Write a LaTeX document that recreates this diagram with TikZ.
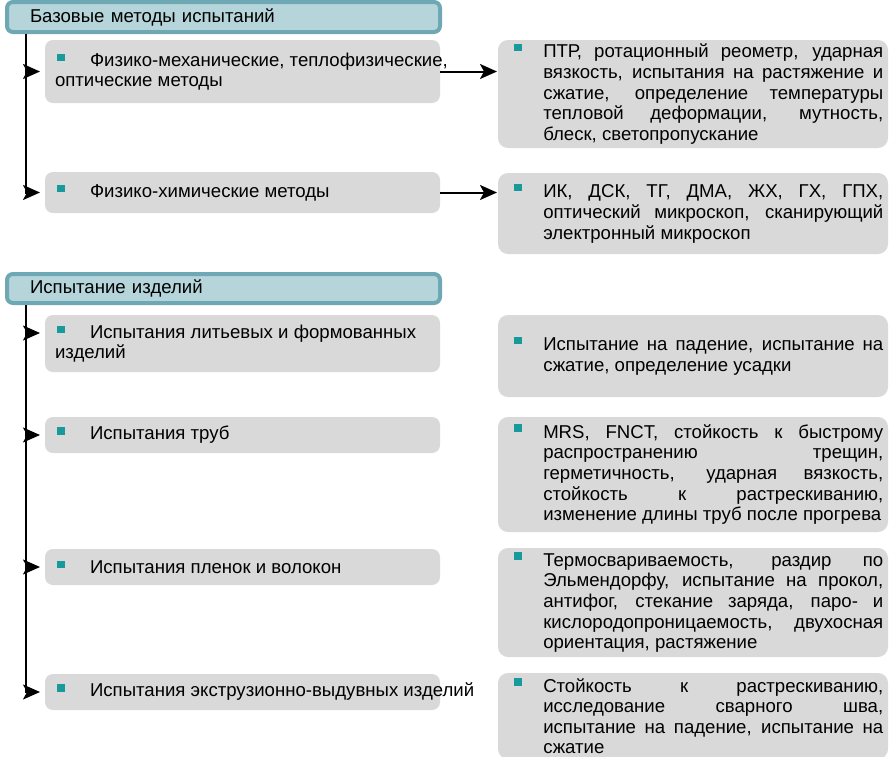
\documentclass[tikz,border=0pt]{standalone}
\usepackage{fontspec}
\setmainfont{Liberation Sans}
\usetikzlibrary{positioning, arrows.meta}

\definecolor{boxgrey}{HTML}{D9D9D9}
\definecolor{headfill}{HTML}{B5D5DB}
\definecolor{headline}{HTML}{6EA8B4}
\definecolor{bulletteal}{HTML}{18999A}

\newcommand{\sqbullet}[1]{\textcolor{bulletteal}{\rule[#1]{7.5pt}{7.5pt}}}
\newcommand{\lbul}{\makebox[35pt][l]{\hspace{2pt}\sqbullet{5pt}}}
\newcommand{\jline}[1]{\makebox[340pt][s]{#1}}
\newcommand{\rtext}[1]{\makebox[40.5pt][l]{\hspace{11.5pt}\sqbullet{6.5pt}}\parbox[t]{340pt}{#1}}

\begin{document}
\begin{tikzpicture}[
    x=1pt, y=-1pt,
    every node/.style={outer sep=0pt, inner sep=0pt, font=\fontsize{18.6}{20.6}\selectfont},
    headbox/.style={draw=headline, line width=4pt, fill=headfill, rounded corners=6pt, anchor=north west,
        minimum height=30pt, text width=387pt, inner xsep=23pt, align=left},
    leftbox/.style={fill=boxgrey, rounded corners=8pt, anchor=north west, minimum width=395pt},
    rightbox/.style={fill=boxgrey, rounded corners=10pt, anchor=north west, minimum width=390pt},
    arrowlink/.style={-{Stealth[length=17pt, width=15pt, inset=4pt]}, line width=2pt}
]
\clip (0,0) rectangle (889,756);

% Headers
\node[headbox] (base_head) at (7,2) {Базовые методы испытаний};
\node[headbox, minimum height=29pt] (item_head) at (7,274) {Испытание изделий};

% Left nodes
\node[leftbox, minimum height=63pt] (phys_mech) at (45,40)
    {\parbox[t]{375pt}{\lbul\mbox{Физико-механические, теплофизические,}\\оптические методы}};
\node[leftbox, minimum height=41pt] (phys_chem) at (45,172)
    {\parbox[t]{375pt}{\lbul Физико-химические методы}};
\node[leftbox, minimum height=57pt] (cast) at (45,315)
    {\parbox[t]{375pt}{\lbul\mbox{Испытания литьевых и формованных}\\изделий}};
\node[leftbox, minimum height=36pt] (pipe) at (45,417)
    {\parbox[t]{375pt}{\lbul Испытания труб}};
\node[leftbox, minimum height=36pt] (film) at (45,549)
    {\parbox[t]{375pt}{\lbul Испытания пленок и волокон}};
\node[leftbox, minimum height=36pt] (blow) at (45,674)
    {\parbox[t]{375pt}{\lbul\mbox{Испытания экструзионно-выдувных изделий}}};

% Right nodes
\node[rightbox, minimum height=108pt] (ptr_box) at (498,40) {\rtext{%
    \jline{ПТР, ротационный реометр, ударная}\\
    \jline{вязкость, испытания на растяжение и}\\
    \jline{сжатие, определение температуры}\\
    \jline{тепловой деформации, мутность,}\\
    блеск, светопропускание}};
\node[rightbox, minimum height=81pt] (ir_box) at (498,173) {\rtext{%
    \jline{ИК, ДСК, ТГ, ДМА, ЖХ, ГХ, ГПХ,}\\
    \jline{оптический микроскоп, сканирующий}\\
    электронный микроскоп}};
\node[rightbox, minimum height=82pt] (drop_box) at (498,315) {\rtext{%
    \jline{Испытание на падение, испытание на}\\
    сжатие, определение усадки}};
\node[rightbox, minimum height=115pt] (mrs_box) at (498,417) {\rtext{%
    \jline{MRS, FNCT, стойкость к быстрому}\\
    \jline{распространению трещин,}\\
    \jline{герметичность, ударная вязкость,}\\
    \jline{стойкость к растрескиванию,}\\
    изменение длины труб после прогрева}};
\node[rightbox, minimum height=109pt] (seal_box) at (498,548) {\rtext{%
    \jline{Термосвариваемость, раздир по}\\
    \jline{Эльмендорфу, испытание на прокол,}\\
    \jline{антифог, стекание заряда, паро- и}\\
    \jline{кислородопроницаемость, двухосная}\\
    ориентация, растяжение}};
\node[rightbox, minimum height=86pt] (crack_box) at (498,673) {\rtext{%
    \jline{Стойкость к растрескиванию,}\\
    \jline{исследование сварного шва,}\\
    \jline{испытание на падение, испытание на}\\
    сжатие}};

% Arrows
\coordinate (spine_a) at (26,34);
\coordinate (spine_b) at (26,305);
\draw[arrowlink, shorten >=5pt] (spine_a) |- (phys_mech.west);
\draw[arrowlink, shorten >=5pt] (spine_a) |- (phys_chem.west);
\draw[arrowlink, shorten >=5pt] (spine_b) |- ([yshift=10.5pt]cast.west);
\draw[arrowlink, shorten >=5pt] (spine_b) |- (pipe.west);
\draw[arrowlink, shorten >=5pt] (spine_b) |- (film.west);
\draw[arrowlink, shorten >=5pt] (spine_b) |- (blow.west);
\draw[arrowlink, shorten >=1pt] (phys_mech.east) -- (phys_mech.east -| ptr_box.west);
\draw[arrowlink, shorten >=1pt] (phys_chem.east) -- (phys_chem.east -| ir_box.west);

\end{tikzpicture}
\end{document}
